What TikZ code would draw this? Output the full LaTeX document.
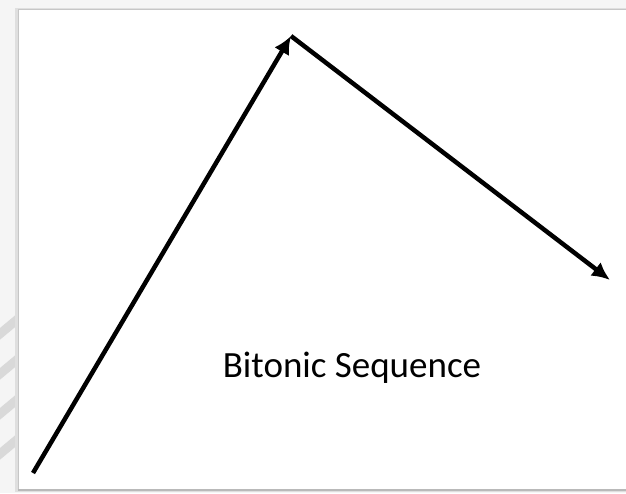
\documentclass[tikz,border=0pt]{standalone}
\usepackage{fontspec}
\setmainfont{Carlito}
\usetikzlibrary{arrows.meta}
\begin{document}
\begin{tikzpicture}[x=1pt,y=1pt,
  arr/.style={line width=4.5pt,-{Latex[length=18pt,width=17pt]}},
  lbl/.style={font=\fontsize{37}{40}\selectfont, text=black, anchor=base, inner sep=0pt}]
\useasboundingbox (0,0) rectangle (626,493);
\fill[gray!8] (0,0) rectangle (626,493);
% stripes lower-left
\begin{scope}
\clip (0,20) rectangle (17,180);
\foreach \y in {0,40,80,120,160} {
  \draw[gray!30,line width=9pt] (-5,\y-5) -- (25,\y+20);
}
\end{scope}
% frame with shadow
\fill[gray!25] (15,1) rectangle (630,485);
\fill[white] (18,3) rectangle (630,484);
\draw[gray!45,line width=0.8pt] (18,3) -- (18,484) -- (630,484);
\draw[gray!55,line width=1.2pt] (18,3) -- (630,3);
\coordinate (a) at (33,20);
\coordinate (b) at (291,457);
\coordinate (c) at (610,213);
\draw[arr] (a) -- (b);
\draw[arr] (b) -- (c);
\node[lbl] (t) at (352,116) {Bitonic Sequence};
\end{tikzpicture}
\end{document}
